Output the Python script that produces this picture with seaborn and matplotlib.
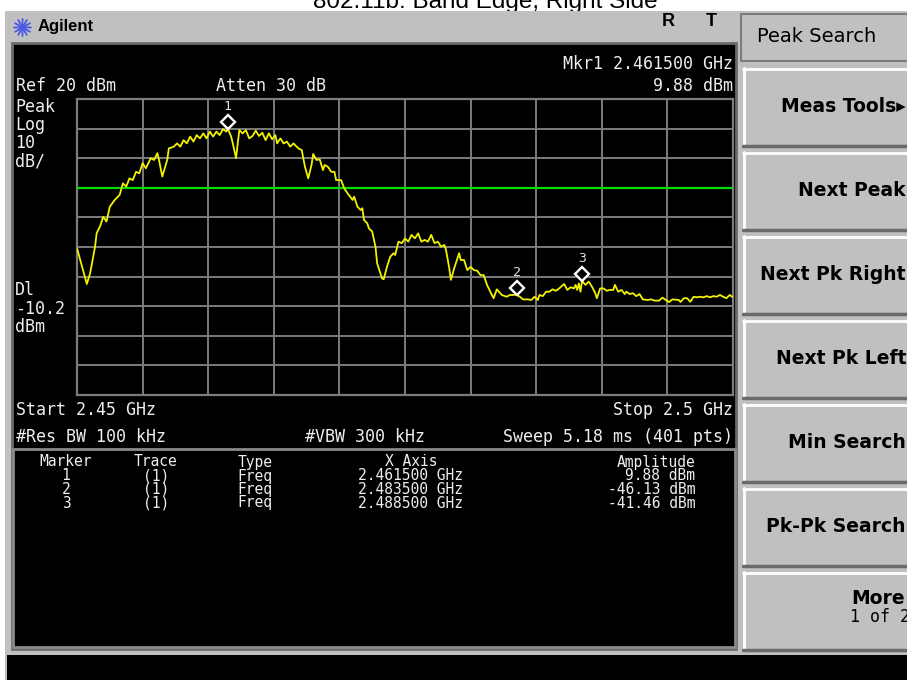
import matplotlib
matplotlib.use("Agg")
import matplotlib.pyplot as plt
from matplotlib.patches import Rectangle
from matplotlib.transforms import ScaledTranslation
import pandas as pd
import seaborn as sns

# sweep settings
start_ghz = 2.45
stop_ghz = 2.5
n_pts = 401
ref_dbm = 20
db_div = 10
display_line = -10.2

# trace: sweep point (0..400) and level in dBm
trace_pt = [
    0, 6, 8, 11, 12, 14, 16, 18, 20, 23, 25, 26, 28, 30, 32, 34, 36, 38, 40, 42,
    45, 47, 49, 50, 52, 55, 56, 59, 61, 63, 65, 67, 69, 71, 73, 75, 77, 79, 81, 83,
    85, 87, 89, 91, 92, 94, 95, 97, 98, 99, 101, 103, 105, 107, 109, 111, 113, 115, 117, 119,
    121, 122, 124, 126, 128, 130, 132, 135, 137, 139, 141, 143, 144, 146, 148, 150, 151, 153, 155, 157,
    158, 161, 163, 165, 168, 169, 171, 173, 174, 175, 177, 178, 180, 182, 183, 186, 187, 189, 191, 193,
    194, 196, 198, 200, 202, 204, 206, 208, 210, 212, 214, 216, 218, 220, 222, 224, 225, 227, 228, 230,
    233, 234, 236, 238, 240, 242, 244, 246, 248, 250, 252, 254, 256, 259, 262, 264, 266, 268, 270, 272,
    275, 277, 279, 281, 282, 284, 286, 288, 290, 292, 294, 297, 299, 301, 303, 304, 305, 306, 307, 308,
    310, 312, 314, 316, 317, 319, 321, 323, 325, 327, 328, 330, 332, 334, 335, 337, 339, 341, 343, 345,
    348, 350, 352, 355, 357, 359, 361, 363, 367, 368, 370, 372, 374, 376, 378, 380, 382, 384, 386, 388,
    390, 392, 394, 396, 398, 400,
]
trace_dbm = [
    -30.4, -42.5, -38.9, -29.9, -25.3, -23.1, -19.8, -21.4, -16.4, -14.1, -13.0, -12.4, -8.5, -9.6, -6.8, -7.4, -4.6, -5.1, -1.7, -3.4,
    0.0, -0.6, 1.7, -0.6, -6.2, -0.6, 3.3, 3.9, 5.0, 3.9, 6.1, 5.0, 7.3, 5.6, 7.8, 6.7, 8.4, 6.7, 9.0, 7.3,
    9.0, 7.8, 9.8, 9.0, 9.88, 7.3, 5.0, 0.0, 5.0, 9.5, 8.4, 9.5, 6.7, 7.5, 9.3, 7.5, 8.6, 6.1, 8.4, 6.4,
    7.8, 5.0, 6.7, 5.0, 5.6, 3.9, 5.0, 3.3, 2.8, -2.9, -6.8, -2.3, 1.4, -0.6, -0.4, -4.0, -2.3, -2.9, -4.6, -4.6,
    -7.4, -7.4, -10.2, -11.9, -14.1, -13.0, -16.4, -17.5, -16.9, -20.9, -22.0, -23.7, -24.8, -29.9, -35.5, -40.6, -40.9, -36.7, -33.3, -32.1,
    -32.7, -28.2, -28.7, -27.1, -28.2, -25.9, -27.1, -25.4, -28.2, -27.6, -28.2, -25.9, -28.7, -28.2, -29.9, -29.3, -31.0, -37.2, -41.1, -37.2,
    -32.1, -34.4, -34.4, -37.8, -36.7, -37.8, -38.0, -39.5, -39.5, -42.8, -45.1, -47.3, -44.3, -46.2, -46.8, -46.2, -46.2, -46.13, -46.8, -47.7,
    -47.7, -47.9, -46.8, -47.9, -46.2, -46.6, -45.1, -45.1, -44.3, -44.8, -44.0, -42.5, -44.5, -43.6, -44.0, -42.8, -44.5, -42.3, -45.1, -41.46,
    -42.8, -41.7, -43.4, -45.6, -47.3, -44.0, -44.0, -44.8, -44.5, -44.5, -42.8, -45.1, -44.5, -45.9, -45.1, -45.9, -45.6, -46.6, -45.9, -47.7,
    -47.9, -47.7, -48.1, -48.1, -47.1, -47.9, -48.6, -47.7, -47.9, -48.6, -47.3, -47.3, -48.5, -46.8, -47.0, -46.8, -47.0, -46.6, -47.0, -46.6,
    -46.8, -46.2, -46.8, -47.3, -46.2, -47.0,
]

# marker table
mkr_num = ["1", "2", "3"]
mkr_trace = ["(1)", "(1)", "(1)"]
mkr_type = ["Freq", "Freq", "Freq"]
mkr_ghz = [2.4615, 2.4835, 2.4885]
mkr_dbm = [9.88, -46.13, -41.46]

softkeys = ["Meas Tools\u25b8", "Next Peak", "Next Pk Right", "Next Pk Left",
            "Min Search", "Pk-Pk Search", "More"]

sns.set_theme(style="dark")
plt.rcParams["font.family"] = ["DejaVu Sans"]

W, H = 907, 680
GRAY = "#c0c0c0"
TXT = "#eeeeee"
MONO = "DejaVu Sans Mono"

fig = plt.figure(figsize=(W / 100, H / 100), dpi=100, facecolor="white")
bg = fig.add_axes([0, 0, 1, 1])
bg.set_xlim(0, W)
bg.set_ylim(H, 0)
bg.axis("off")


def box(x0, y0, x1, y1, fc, ec="none", lw=0, z=1):
    bg.add_patch(Rectangle((x0, y0), x1 - x0, y1 - y0, facecolor=fc,
                           edgecolor=ec, linewidth=lw, zorder=z))


# title, half hidden behind the instrument frame
bg.text(485, 8, "802.11b: Band Edge, Right Side", ha="center", va="baseline",
        fontsize=17.5, family="Liberation Sans", color="black", zorder=0)
box(5, 11, W, H, GRAY)

# header bar
bg.scatter([22], [27], marker=(12, 2, 0), s=150, color="#4b5be6", lw=1, zorder=3)
bg.text(38, 27, "Agilent", ha="left", va="center", fontsize=12,
        family="Liberation Sans", weight="bold", color="black", zorder=3)
bg.text(668, 21, "R", ha="center", va="center", fontsize=13,
        family="Liberation Sans", weight="bold", color="black", zorder=3)
bg.text(711, 21, "T", ha="center", va="center", fontsize=13,
        family="Liberation Sans", weight="bold", color="black", zorder=3)

# screen
box(12, 43, 736, 649, "black", ec="#6a6a6a", lw=2, z=2)
box(13, 449, 735, 647, "black", ec="#8a8a8a", lw=2, z=2)
box(7, 655, W, H, "black", z=2)

# soft keys
box(741, 14, W + 2, 61, GRAY, ec="#7c7c7c", lw=1.5, z=2)
bg.text(757, 37, "Peak Search", ha="left", va="center", fontsize=14,
        color="black", zorder=3)
for i, key in enumerate(softkeys):
    top = 68 + i * 84
    box(743, top, W + 2, top + 78, GRAY, z=2)
    bg.plot([743, W], [top + 1, top + 1], color="white", lw=2, zorder=3)
    bg.plot([744, 744], [top, top + 78], color="white", lw=2, zorder=3)
    bg.plot([743, W], [top + 78, top + 78], color="#6a6a6a", lw=2.5, zorder=3)
    if key == "More":
        bg.text(905, top + 27, key, ha="right", va="center", fontsize=13.5,
                weight="bold", color="black", zorder=4)
        bg.text(910, top + 45, "1 of 2", ha="right", va="center", fontsize=12,
                family=MONO, color="black", zorder=4)
    else:
        bg.text(906, top + 39, key, ha="right", va="center", fontsize=13.5,
                weight="bold", color="black", zorder=4)

# annotations around the graticule
kw = dict(family=MONO, fontsize=12, color=TXT, va="center", zorder=4)
bg.text(733, 64, f"Mkr1 {mkr_ghz[0]:.6f} GHz", ha="right", **kw)
bg.text(16, 86, f"Ref {ref_dbm} dBm", ha="left", **kw)
bg.text(216, 86, "Atten 30 dB", ha="left", **kw)
bg.text(733, 86, f"{mkr_dbm[0]:.2f} dBm", ha="right", **kw)
for y, s in zip([107, 125, 143, 161], ["Peak", "Log", f"{db_div}", "dB/"]):
    bg.text(15, y, s, ha="left", **kw)
for y, s in zip([290, 309, 327], ["Dl", f"{display_line}", "dBm"]):
    bg.text(15, y, s, ha="left", **kw)
bg.text(16, 410, f"Start {start_ghz:g} GHz", ha="left", **kw)
bg.text(733, 410, f"Stop {stop_ghz:g} GHz", ha="right", **kw)
bg.text(16, 437, "#Res BW 100 kHz", ha="left", **kw)
bg.text(305, 437, "#VBW 300 kHz", ha="left", **kw)
bg.text(733, 437, f"Sweep 5.18 ms ({n_pts} pts)", ha="right", **kw)

# marker table
tk = dict(family=MONO, fontsize=10.5, color=TXT, va="center", zorder=4)
bg.text(66, 462, "Marker", ha="center", **tk)
bg.text(156, 462, "Trace", ha="center", **tk)
bg.text(255, 462, "Type", ha="center", **tk)
bg.text(411, 462, "X Axis", ha="center", **tk)
bg.text(695, 462, "Amplitude", ha="right", **tk)
for i in range(len(mkr_num)):
    y = 476 + i * 13.5
    bg.text(66, y, mkr_num[i], ha="center", **tk)
    bg.text(156, y, mkr_trace[i], ha="center", **tk)
    bg.text(255, y, mkr_type[i], ha="center", **tk)
    bg.text(411, y, f"{mkr_ghz[i]:.6f} GHz", ha="center", **tk)
    bg.text(695, y, f"{mkr_dbm[i]:.2f} dBm", ha="right", **tk)

# graticule and trace
df = pd.DataFrame({
    "ghz": [start_ghz + p * (stop_ghz - start_ghz) / (n_pts - 1) for p in trace_pt],
    "dbm": trace_dbm,
})
ax = fig.add_axes([77 / W, 1 - 395 / H, 656 / W, 296 / H])
ax.set_facecolor("black")
ax.set_zorder(5)
sns.lineplot(data=df, x="ghz", y="dbm", ax=ax, color="#f2f200", lw=1.3, zorder=4)
ax.axhline(display_line, color="#00dd00", lw=1.6, zorder=3)
ax.set_xlim(start_ghz, stop_ghz)
ax.set_ylim(ref_dbm - 10 * db_div, ref_dbm)
ax.set_xticks([start_ghz + k * (stop_ghz - start_ghz) / 10 for k in range(11)])
ax.set_yticks([ref_dbm - k * db_div for k in range(11)])
ax.grid(True, color="#7c7c7c", lw=1.4)
ax.tick_params(length=0, labelbottom=False, labelleft=False)
ax.set_xlabel("")
ax.set_ylabel("")
for sp in ax.spines.values():
    sp.set_color("#7c7c7c")
    sp.set_linewidth(1.6)

lift = ax.transData + ScaledTranslation(0, 0.065, fig.dpi_scale_trans)
ax.plot(mkr_ghz, mkr_dbm, ls="none", marker="D", ms=7, mfc="black",
        mec="white", mew=1.7, transform=lift, clip_on=False, zorder=6)
for n, f, d in zip(mkr_num, mkr_ghz, mkr_dbm):
    ax.annotate(n, (f, d), xytext=(0, 16), textcoords="offset points",
                ha="center", va="center", family=MONO, fontsize=9.5,
                color="#e0e0e0", zorder=6, annotation_clip=False)

fig.savefig("out.png", dpi=100, facecolor="white")
